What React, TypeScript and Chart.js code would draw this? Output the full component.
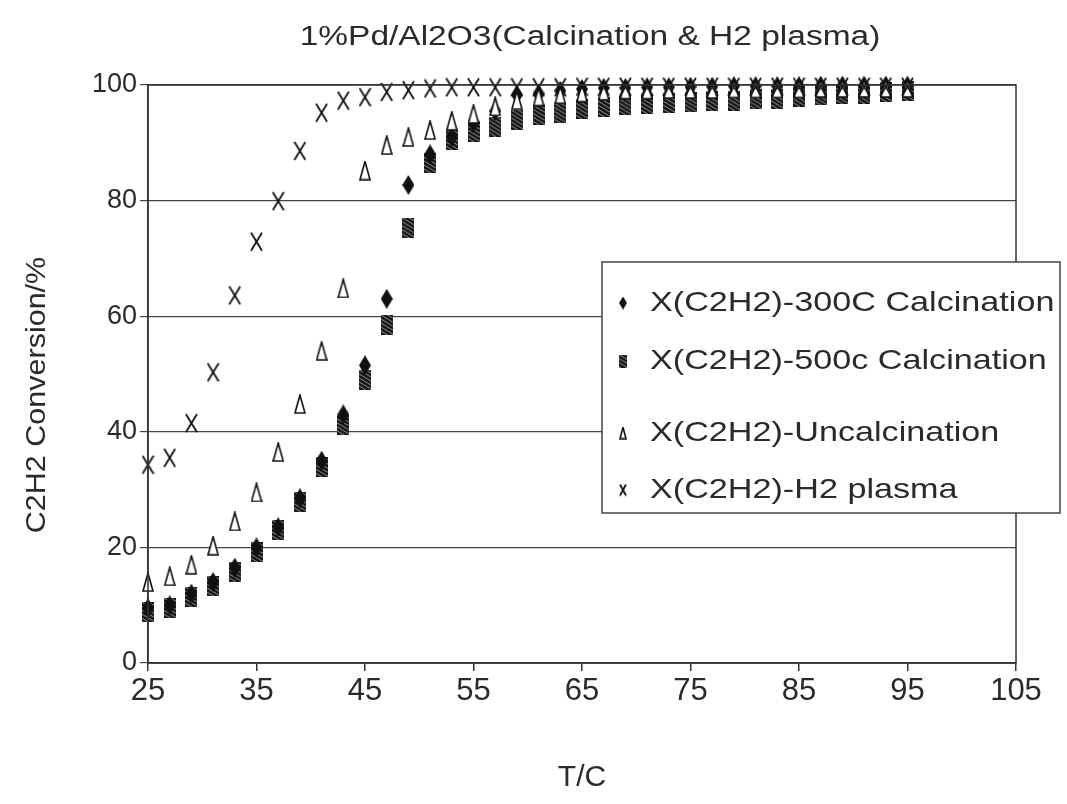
import React, { useEffect, useRef } from "react";
import { Chart, registerables } from "chart.js";

Chart.register(...registerables);

const temperatures = [25, 27, 29, 31, 33, 35, 37, 39, 41, 43, 45, 47, 49, 51, 53, 55, 57, 59, 61, 63, 65, 67, 69, 71, 73, 75, 77, 79, 81, 83, 85, 87, 89, 91, 93, 95];

const calc300 = [9.5, 10, 12, 14, 16.5, 20, 23.5, 28.5, 35, 43, 51.5, 63, 82.7, 88, 91, 93.5, 95.5, 98.3, 98.5, 99, 99.3, 99.5, 99.5, 99.6, 99.6, 99.7, 99.7, 99.8, 99.8, 99.8, 99.8, 99.9, 99.9, 99.9, 99.9, 99.9];
const calc500 = [8.8, 9.5, 11.4, 13.3, 15.8, 19.2, 23, 27.9, 33.9, 41.2, 49, 58.5, 75.3, 86.5, 90.5, 91.9, 92.8, 94, 94.8, 95.1, 95.8, 96.2, 96.5, 96.7, 96.9, 97.0, 97.2, 97.3, 97.5, 97.6, 98.0, 98.2, 98.4, 98.5, 98.8, 99.0];
const uncalc = [14, 15, 17, 20.3, 24.5, 29.5, 36.5, 44.8, 54, 64.8, 85.2, 89.6, 91, 92.2, 93.8, 95, 96.3, 97.4, 98, 98.4, 98.7, 99, 99.2, 99.2, 99.3, 99.3, 99.3, 99.4, 99.4, 99.4, 99.4, 99.5, 99.5, 99.5, 99.5, 99.5];
const h2plasma = [34.3, 35.5, 41.5, 50.3, 63.6, 72.9, 79.9, 88.6, 95.2, 97.3, 97.9, 98.8, 99.1, 99.4, 99.6, 99.6, 99.6, 99.6, 99.6, 99.6, 99.7, 99.7, 99.7, 99.7, 99.7, 99.7, 99.7, 99.7, 99.7, 99.7, 99.7, 99.7, 99.7, 99.7, 99.7, 99.7];

const seriesLabels = [
  "X(C2H2)-300C Calcination",
  "X(C2H2)-500c Calcination",
  "X(C2H2)-Uncalcination",
  "X(C2H2)-H2 plasma",
];

const chartTitle = "1%Pd/Al2O3(Calcination & H2 plasma)";
const xTitle = "T/C";
const yTitle = "C2H2 Conversion/%";

const FONT = "'Liberation Sans', Arial, sans-serif";
const TEXT = "#2a2a2a";

type Kind = "diamond" | "square" | "triangle" | "x";

function makeMarker(kind: Kind, w: number, h: number): HTMLCanvasElement {
  const c = document.createElement("canvas");
  c.width = w;
  c.height = h;
  const g = c.getContext("2d")!;
  if (kind === "diamond") {
    g.fillStyle = "#111";
    g.beginPath();
    g.moveTo(w / 2, 0);
    g.lineTo(w, h / 2);
    g.lineTo(w / 2, h);
    g.lineTo(0, h / 2);
    g.closePath();
    g.fill();
  } else if (kind === "square") {
    g.fillStyle = "#141414";
    g.fillRect(0, 0, w, h);
    g.strokeStyle = "#999";
    g.lineWidth = 1;
    for (let k = -w; k < h + w; k += 4) {
      g.beginPath();
      g.moveTo(0, k);
      g.lineTo(w, k + w * 0.6);
      g.stroke();
    }
  } else if (kind === "triangle") {
    g.fillStyle = "#fff";
    g.strokeStyle = "#111";
    g.lineWidth = 1.6;
    g.beginPath();
    g.moveTo(w / 2, 1);
    g.lineTo(w - 1, h - 1);
    g.lineTo(1, h - 1);
    g.closePath();
    g.fill();
    g.stroke();
  } else {
    g.strokeStyle = "#111";
    g.lineWidth = 1.8;
    g.beginPath();
    g.moveTo(1, 1);
    g.lineTo(w - 1, h - 1);
    g.moveTo(w - 1, 1);
    g.lineTo(1, h - 1);
    g.stroke();
  }
  return c;
}

function wideText(ctx: CanvasRenderingContext2D, text: string, x: number, y: number, sx: number, align: CanvasTextAlign, rot = 0) {
  ctx.save();
  ctx.translate(x, y);
  if (rot) ctx.rotate(rot);
  ctx.scale(sx, 1);
  ctx.textAlign = align;
  ctx.textBaseline = "middle";
  ctx.fillText(text, 0, 0);
  ctx.restore();
}

export default function App() {
  const ref = useRef<HTMLCanvasElement | null>(null);

  useEffect(() => {
    if (!ref.current) return;
    const kinds: Kind[] = ["diamond", "square", "triangle", "x"];
    const big = [
      makeMarker("diamond", 12, 20),
      makeMarker("square", 12, 20),
      makeMarker("triangle", 12, 20),
      makeMarker("x", 13, 20),
    ];
    const small = kinds.map((k) => makeMarker(k, 8, 13));
    const series = [calc300, calc500, uncalc, h2plasma];
    const orders = [2, 3, 1, 0];

    const decor = {
      id: "decor",
      afterDraw(chart: any) {
        const { ctx, chartArea } = chart;
        ctx.save();
        // plot border
        ctx.strokeStyle = "#333";
        ctx.lineWidth = 1.5;
        ctx.strokeRect(chartArea.left, chartArea.top, chartArea.right - chartArea.left, chartArea.bottom - chartArea.top);
        // title
        ctx.fillStyle = TEXT;
        ctx.font = `27px ${FONT}`;
        wideText(ctx, chartTitle, 590, 38, 1.24, "center");
        // y title
        ctx.font = `27px ${FONT}`;
        wideText(ctx, yTitle, 38, 395, 1.13, "center", -Math.PI / 2);
        // legend
        const bx = 602, by = 262, bw = 458, bh = 251;
        ctx.fillStyle = "#fff";
        ctx.fillRect(bx, by, bw, bh);
        ctx.strokeStyle = "#444";
        ctx.lineWidth = 1.5;
        ctx.strokeRect(bx, by, bw, bh);
        const rows = [303, 361, 433, 490];
        chart.data.datasets.forEach((ds: any, i: number) => {
          const m = small[i];
          ctx.drawImage(m, 623 - m.width / 2, rows[i] - m.height / 2);
          ctx.fillStyle = TEXT;
          ctx.font = `28px ${FONT}`;
          wideText(ctx, ds.label, 650, rows[i], 1.22, "left");
        });
        ctx.restore();
      },
    };

    const chart = new Chart(ref.current, {
      type: "scatter",
      data: {
        datasets: series.map((vals, i) => ({
          label: seriesLabels[i],
          data: temperatures.map((t, j) => ({ x: t, y: vals[j] })),
          pointStyle: big[i] as any,
          pointRadius: 8,
          order: orders[i],
          showLine: false,
          clip: false as any,
        })),
      },
      options: {
        animation: false,
        responsive: false,
        devicePixelRatio: 1,
        layout: { padding: { top: 85, right: 51, left: 0, bottom: 0 } },
        plugins: {
          legend: { display: false },
          title: { display: false },
          tooltip: { enabled: false },
        },
        scales: {
          x: {
            type: "linear",
            min: 25,
            max: 105,
            ticks: {
              stepSize: 10,
              color: TEXT,
              font: { family: FONT, size: 31 },
              padding: 2,
            },
            grid: { drawOnChartArea: false, drawTicks: true, tickLength: 8, color: "#333", lineWidth: 1.5 },
            border: { display: true, color: "#333", width: 1.5 },
            title: {
              display: true,
              text: xTitle,
              color: TEXT,
              font: { family: FONT, size: 30 },
              padding: { top: 0, bottom: 8 },
            },
            afterFit(scale: any) {
              scale.height = 141;
            },
          },
          y: {
            type: "linear",
            min: 0,
            max: 100,
            ticks: {
              stepSize: 20,
              color: TEXT,
              font: { family: FONT, size: 27 },
              padding: 3,
            },
            grid: { color: "#444", lineWidth: 1.2, tickLength: 8, drawTicks: true },
            border: { display: true, color: "#333", width: 1.5 },
            afterFit(scale: any) {
              scale.width = 148;
            },
          },
        },
      },
      plugins: [decor],
    });
    return () => chart.destroy();
  }, []);

  return (
    <div style={{ position: "fixed", left: 0, top: 0, width: 1067, height: 804, background: "#fff" }}>
      <canvas ref={ref} width={1067} height={804} style={{ width: 1067, height: 804 }} />
    </div>
  );
}
